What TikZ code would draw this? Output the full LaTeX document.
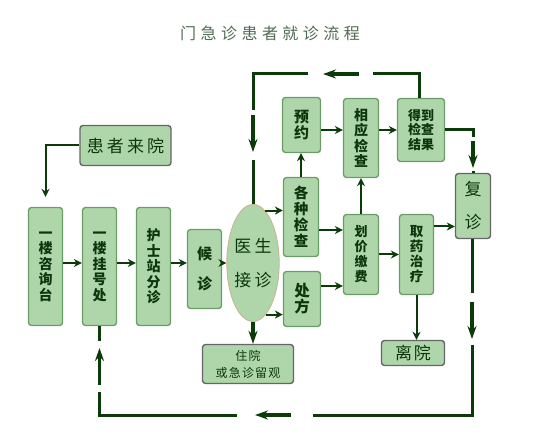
\documentclass[tikz,border=0pt]{standalone}
\usepackage{fontspec}
\setmainfont{Noto Sans CJK SC}
\usetikzlibrary{positioning,arrows.meta,shapes.geometric,calc}
\definecolor{boxfill}{HTML}{AED6AA}
\definecolor{boxline}{HTML}{6A9C66}
\definecolor{greyline}{HTML}{666666}
\definecolor{flow}{HTML}{0B3B08}
\definecolor{ink}{HTML}{0E360E}
\definecolor{titleink}{HTML}{4F6B55}
\definecolor{rim}{HTML}{C8B38A}

\begin{document}
\begin{tikzpicture}[x=1pt,y=-1pt,
    box/.style={draw=boxline,fill=boxfill,rounded corners=3pt,line width=1.3pt,inner sep=0pt,align=center,text=ink,font=\bfseries\fontsize{14}{15.5}\selectfont},
    greybox/.style={box,draw=greyline,line width=1.4pt},
    arr/.style={-{Stealth[length=8pt,width=8pt]},line width=2pt,color=flow},
    loop/.style={line width=3pt,color=flow},
    bigarr/.style={-{Stealth[length=13pt,width=9pt]},line width=3.5pt,color=flow}
  ]
  \useasboundingbox (0,0) rectangle (546,443);

  \node[font=\fontsize{16}{16}\selectfont\addfontfeatures{LetterSpace=28},text=titleink] (title) at (270,33) {门急诊患者就诊流程};

  % left column
  \node[greybox,minimum width=91pt,minimum height=40pt,font=\fontsize{17}{17}\selectfont\addfontfeatures{LetterSpace=18}] (laiyuan) at (125.5,145.5) {患者来院};
  \node[box,minimum width=34pt,minimum height=118pt] (zixun) at (45.5,266.5) {一\\楼\\咨\\询\\台};
  \node[box,minimum width=34pt,minimum height=118pt] (guahao) at (99.5,266.5) {一\\楼\\挂\\号\\处};
  \node[box,minimum width=34pt,minimum height=118pt] (fenzhen) at (153.5,266.5) {护\\士\\站\\分\\诊};
  \node[box,minimum width=34pt,minimum height=79pt,font=\bfseries\fontsize{15}{30}\selectfont] (houzhen) at (204.5,269) {候\\诊};
  \node[ellipse,draw=rim,line width=0.8pt,fill=boxfill,minimum width=46pt,minimum height=117pt,inner sep=0pt,align=center,text=ink,font=\fontsize{17}{34}\selectfont\addfontfeatures{LetterSpace=18}] (yisheng) at (253,263) {医生\\接诊};
  \node[greybox,minimum width=91pt,minimum height=39pt,font=\fontsize{12}{17}\selectfont\addfontfeatures{LetterSpace=10}] (zhuyuan) at (248,364) {住院\\或急诊留观};

  % examination branch
  \node[box,minimum width=38pt,minimum height=55pt,font=\bfseries\fontsize{15}{16}\selectfont] (yuyue) at (301.5,125) {预\\约};
  \node[box,minimum width=35pt,minimum height=79pt] (xiangying) at (361,138) {相\\应\\检\\查};
  \node[box,minimum width=47pt,minimum height=63pt,font=\bfseries\fontsize{13}{14.5}\selectfont] (jieguo) at (421,130) {得到\\检查\\结果};
  \node[box,minimum width=35pt,minimum height=79pt,font=\bfseries\fontsize{14.5}{16}\selectfont] (gezhong) at (301,217) {各\\种\\检\\查};
  \node[box,minimum width=37pt,minimum height=55pt,font=\bfseries\fontsize{15.5}{16}\selectfont] (chufang) at (302,299) {处\\方};
  \node[box,minimum width=35pt,minimum height=80pt,font=\bfseries\fontsize{13}{15}\selectfont] (huajia) at (361,254.5) {划\\价\\缴\\费};
  \node[box,minimum width=34pt,minimum height=80pt,font=\bfseries\fontsize{13.5}{15}\selectfont] (quyao) at (416.5,254.5) {取\\药\\治\\疗};
  \node[greybox,minimum width=35pt,minimum height=65pt,font=\fontsize{17}{33}\selectfont] (fuzhen) at (473,206) {复\\诊};
  \node[greybox,minimum width=63pt,minimum height=25pt,font=\fontsize{17}{17}\selectfont\addfontfeatures{LetterSpace=10}] (liyuan) at (413,353) {离院};

  % main flow
  \draw[arr] (laiyuan.west) -| ([yshift=10pt]zixun.north);
  \draw[arr] (zixun.east |- yisheng) -- (guahao.west |- yisheng);
  \draw[arr] (guahao.east |- yisheng) -- (fenzhen.west |- yisheng);
  \draw[arr] (fenzhen.east |- yisheng) -- (houzhen.west |- yisheng);
  \draw[arr] (houzhen.east |- yisheng) -- (yisheng.west);
  \draw[arr] (yisheng.77) -- (yisheng.77 -| gezhong.west);
  \draw[arr] (yisheng.-76) -- (yisheng.-76 -| chufang.west);
  \draw[bigarr] (yisheng.south) -- (yisheng.south |- zhuyuan.north);

  \coordinate (gh) at ($(gezhong.east)+(0,13)$);
  \coordinate (ch) at ($(chufang.east)+(0,-13)$);
  \coordinate (qf) at ($(quyao.east)+(0,-28)$);
  \draw[arr] (gezhong.north) -- (gezhong.north |- yuyue.south);
  \draw[arr] (yuyue.east |- jieguo) -- (xiangying.west |- jieguo);
  \draw[arr] (xiangying.east |- jieguo) -- (jieguo.west);
  \draw[arr] (gh) -- (gh -| huajia.west);
  \draw[arr] (ch) -- (ch -| huajia.west);
  \draw[arr] (huajia.north) -- (xiangying.south);
  \draw[arr] (huajia.east) -- (quyao.west);
  \draw[arr] (qf) -- (qf -| fuzhen.west);
  \draw[arr] (quyao.south) -- (quyao.south |- liyuan.north);

  % results back to the doctor
  \coordinate (tr) at (419,74);
  \coordinate (tl) at (253,74);
  \draw[loop] (tr |- jieguo.north) -- (tr) -- ++(-46,0);
  \draw[bigarr] ($(tr)+(-60,0)$) -- ($(tr)+(-96,0)$);
  \draw[loop] ($(tr)+(-111,0)$) -- (tl) -- ++(0,36);
  \draw[bigarr] ($(tl)+(0,41)$) -- ($(tl)+(0,78)$);
  \draw[loop] ($(tl)+(0,86)$) -- (yisheng.north);

  % results to follow-up
  \coordinate (jf) at (jieguo.east -| fuzhen.north);
  \draw[loop] (jieguo.east) -- (jf) -- ++(0,7);
  \draw[bigarr] ($(jf)+(0,11)$) -- ($(jf)+(0,38)$);
  \draw[loop] ($(jf)+(0,41)$) -- (fuzhen.north);

  % follow-up back to registration
  \coordinate (br) at (472,415);
  \coordinate (bl) at (guahao.south |- br);
  \draw[loop] (fuzhen.south -| br) -- ($(br)+(0,-122)$);
  \draw[bigarr] ($(br)+(0,-113)$) -- ($(br)+(0,-76)$);
  \draw[loop] ($(br)+(0,-70)$) -- (br) -- ++(-159,0);
  \draw[bigarr] ($(br)+(-181,0)$) -- ($(br)+(-217,0)$);
  \draw[loop] ($(br)+(-235,0)$) -- (bl) -- ++(0,-23);
  \draw[bigarr] ($(bl)+(0,-30)$) -- ($(bl)+(0,-67)$);
  \draw[loop] ($(bl)+(0,-74)$) -- (guahao.south);
\end{tikzpicture}
\end{document}
